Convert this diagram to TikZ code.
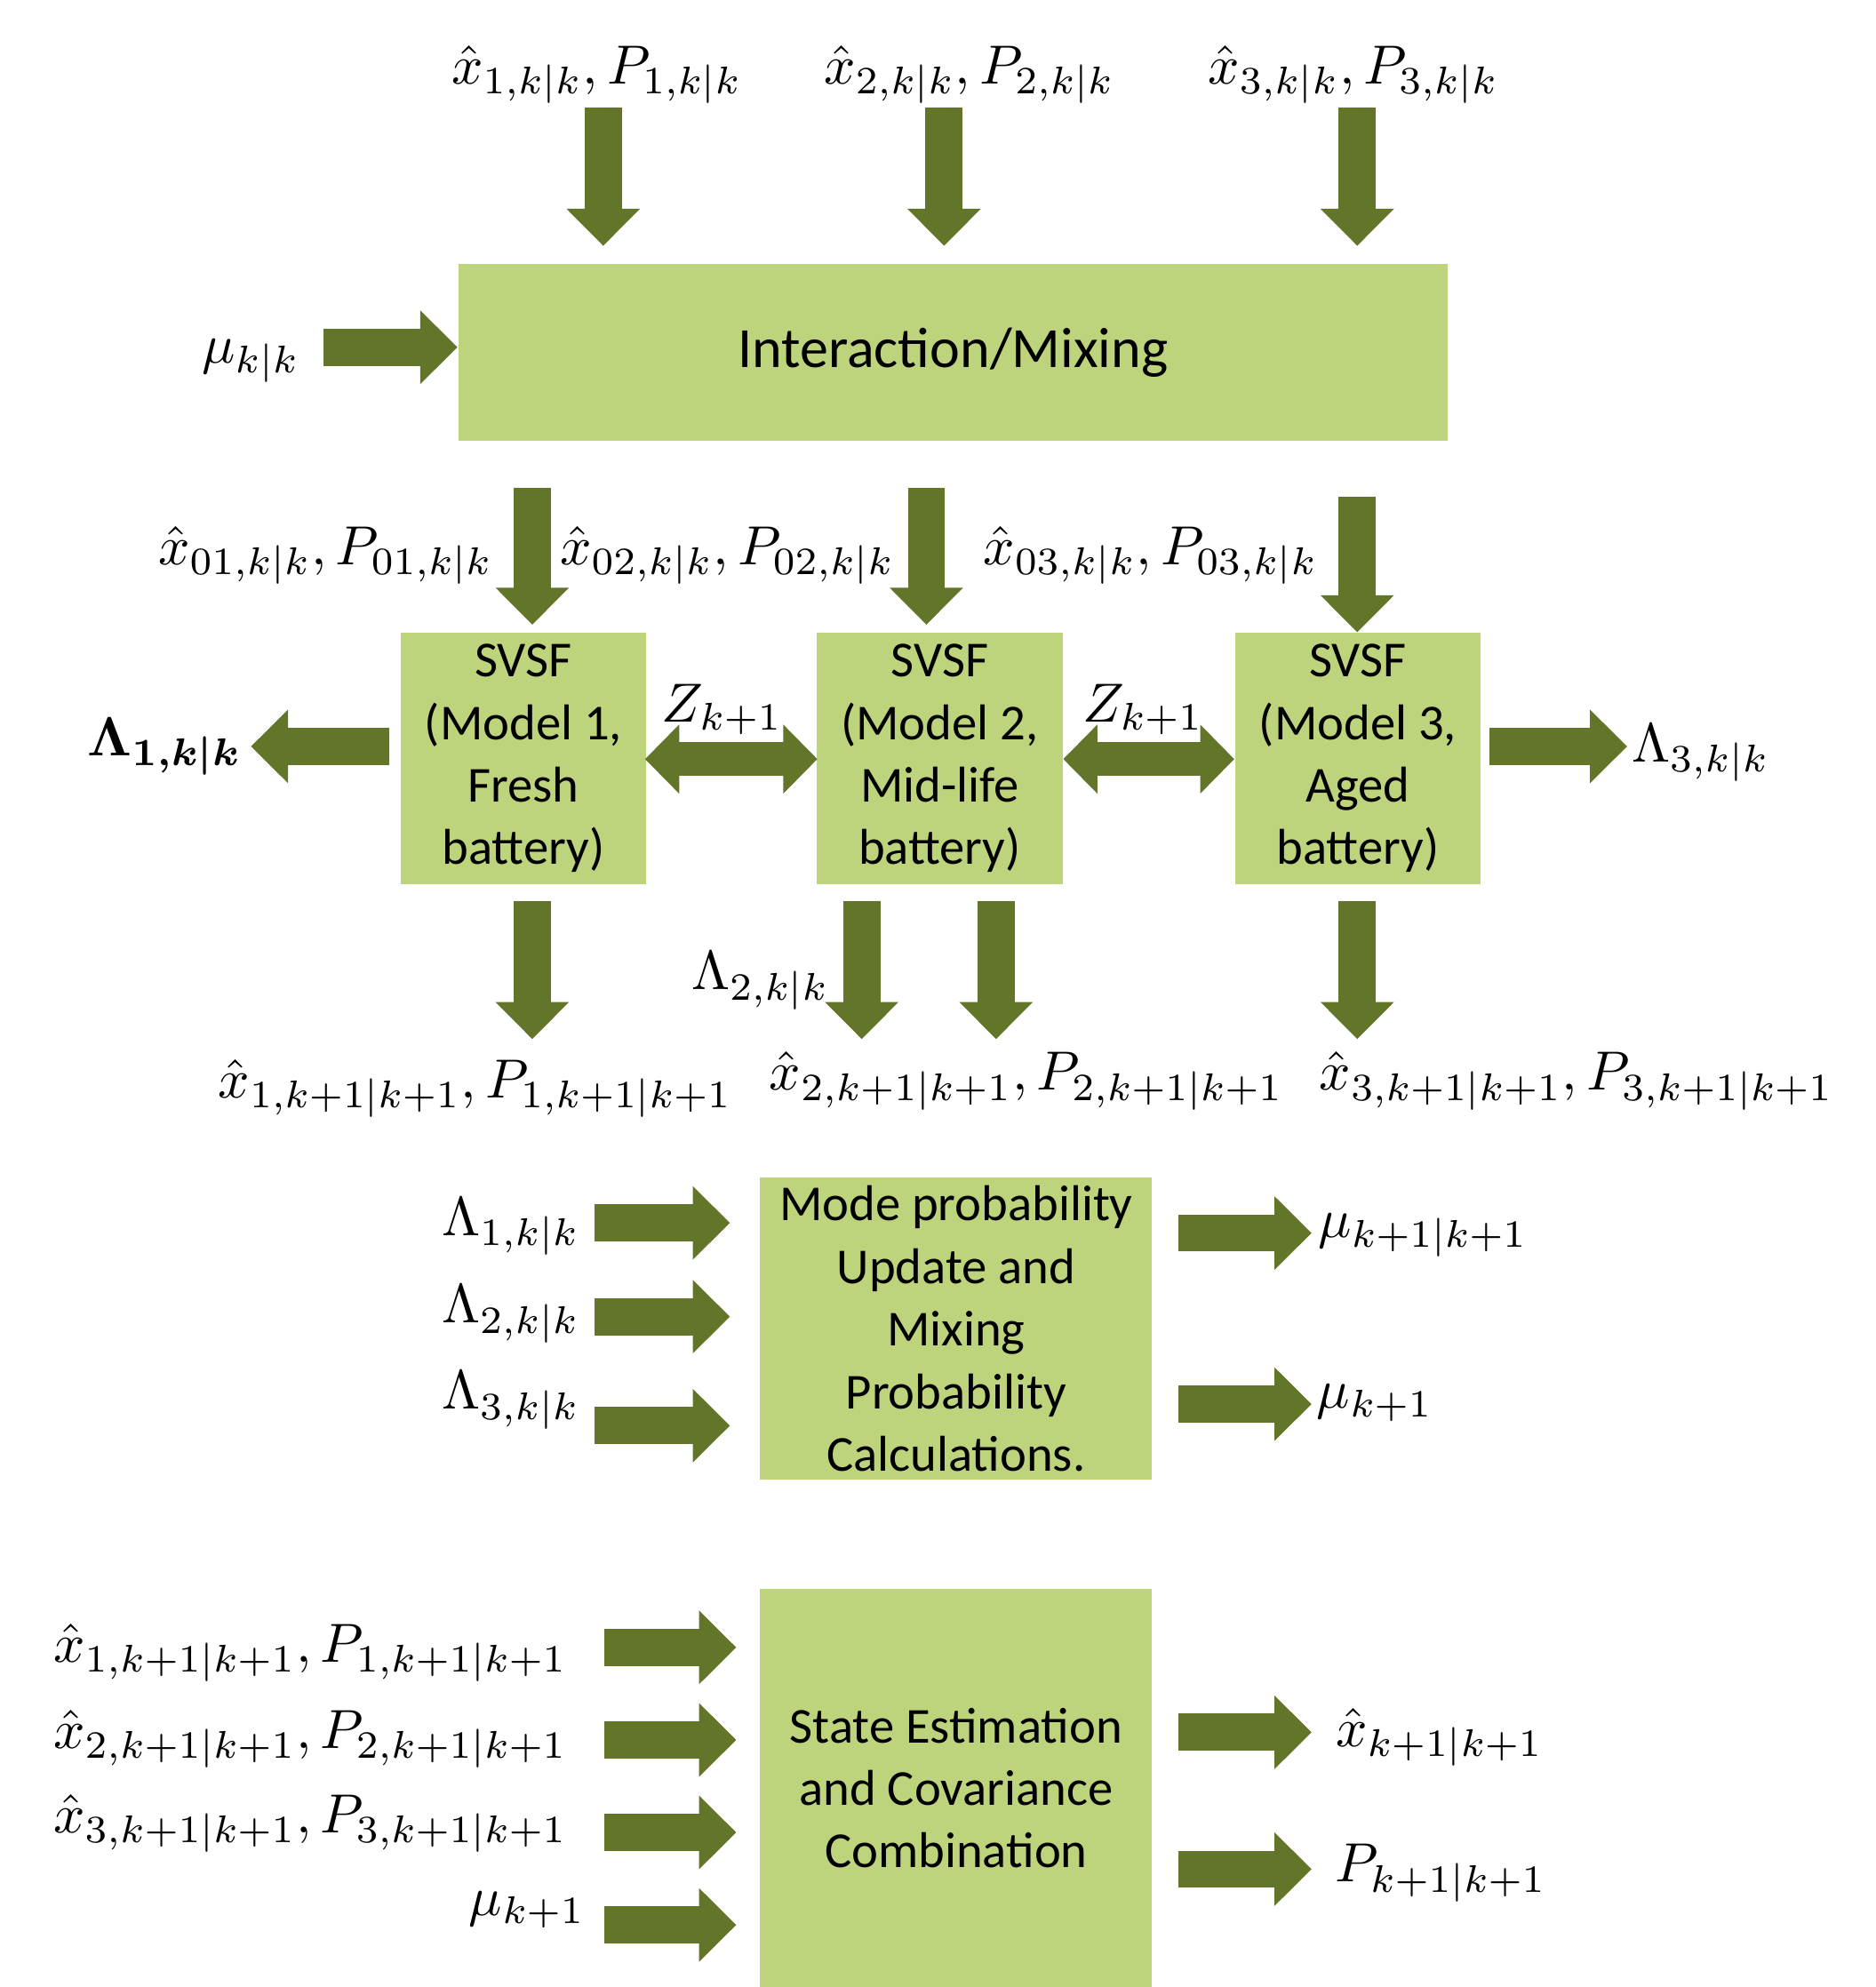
\documentclass[tikz,border=0pt]{standalone}
\usepackage{amsmath}
\usepackage{graphicx}
\usepackage{fontspec}
\newfontfamily\boxfont{Carlito}
\usetikzlibrary{arrows.meta}
\definecolor{boxgreen}{RGB}{189,211,124}
\definecolor{arrowgreen}{RGB}{99,117,41}
\newcommand{\lbm}[1]{\scalebox{0.92}{$#1$}}
\tikzset{
  blk/.style={fill=boxgreen, draw=none, inner sep=0pt, align=center, font=\boxfont\fontsize{8.4pt}{10.45pt}\selectfont},
  barrow/.style={draw=arrowgreen, line width=6.2pt, -{Triangle[length=6.2pt,width=11.9pt]}},
  dbarrow/.style={draw=arrowgreen, line width=5.7pt, {Triangle[length=5.7pt,width=11.2pt]}-{Triangle[length=5.7pt,width=11.2pt]}},
  lbl/.style={inner sep=0pt, font=\fontsize{9.6pt}{11pt}\selectfont}
}
\begin{document}
\begin{tikzpicture}[x=0.2115pt,y=-0.2115pt]
\fill[white] (0,0) rectangle (1480,1568);
\useasboundingbox (0,0) rectangle (1480,1568);

% boxes
\node[blk, minimum width=165pt, minimum height=29.6pt, font=\boxfont\fontsize{9.5pt}{11pt}\selectfont] (mix) at (752,278) {Interaction/Mixing};
\node[blk, minimum width=41pt, minimum height=42.1pt] (f1) at (413,598.5) {SVSF\\(Model 1,\\Fresh\\battery)};
\node[blk, minimum width=41pt, minimum height=42.1pt] (f2) at (741.5,598.5) {SVSF\\(Model 2,\\Mid-life\\battery)};
\node[blk, minimum width=41pt, minimum height=42.1pt] (f3) at (1071.5,598.5) {SVSF\\(Model 3,\\Aged\\battery)};
\node[blk, minimum width=65.4pt, minimum height=50.5pt] (mode) at (754.5,1048.5) {Mode probability\\Update and\\Mixing\\Probability\\Calculations.};
\node[blk, minimum width=65.4pt, minimum height=66.4pt] (comb) at (754.5,1411) {State Estimation\\and Covariance\\Combination};

% labels
\node[lbl] (t1) at (471,59) {\lbm{\hat{x}_{1,k|k},P_{1,k|k}}};
\node[lbl] (t2) at (765,59) {\lbm{\hat{x}_{2,k|k},P_{2,k|k}}};
\node[lbl] (t3) at (1068,59) {\lbm{\hat{x}_{3,k|k},P_{3,k|k}}};
\node[lbl] (mu) at (198,285) {\lbm{\mu_{k|k}}};
\node[lbl] (m1) at (257,438) {\lbm{\hat{x}_{01,k|k},P_{01,k|k}}};
\node[lbl] (m2) at (574,438) {\lbm{\hat{x}_{02,k|k},P_{02,k|k}}};
\node[lbl] (m3) at (908,438) {\lbm{\hat{x}_{03,k|k},P_{03,k|k}}};
\node[lbl] (z1) at (570,560) {\lbm{Z_{k+1}}};
\node[lbl] (z2) at (902,560) {\lbm{Z_{k+1}}};
\node[lbl] (L1) at (130,589) {\lbm{\boldsymbol{\Lambda_{1,k|k}}}};
\node[lbl] (L3) at (1342,594) {\lbm{\Lambda_{3,k|k}}};
\node[lbl] (L2) at (600,774) {\lbm{\Lambda_{2,k|k}}};
\node[lbl] (b1) at (375,859) {\lbm{\hat{x}_{1,k+1|k+1},P_{1,k+1|k+1}}};
\node[lbl] (b2) at (810,853) {\lbm{\hat{x}_{2,k+1|k+1},P_{2,k+1|k+1}}};
\node[lbl] (b3) at (1244,853) {\lbm{\hat{x}_{3,k+1|k+1},P_{3,k+1|k+1}}};
\node[lbl] (ml1) at (403,968) {\lbm{\Lambda_{1,k|k}}};
\node[lbl] (ml2) at (403,1037) {\lbm{\Lambda_{2,k|k}}};
\node[lbl] (ml3) at (403,1105) {\lbm{\Lambda_{3,k|k}}};
\node[lbl] (mr1) at (1123,975) {\lbm{\mu_{k+1|k+1}}};
\node[lbl] (mr2) at (1085,1107) {\lbm{\mu_{k+1}}};
\node[lbl] (cl1) at (245,1304) {\lbm{\hat{x}_{1,k+1|k+1},P_{1,k+1|k+1}}};
\node[lbl] (cl2) at (245,1372) {\lbm{\hat{x}_{2,k+1|k+1},P_{2,k+1|k+1}}};
\node[lbl] (cl3) at (245,1439) {\lbm{\hat{x}_{3,k+1|k+1},P_{3,k+1|k+1}}};
\node[lbl] (cl4) at (416,1507) {\lbm{\mu_{k+1}}};
\node[lbl] (cr1) at (1136,1371) {\lbm{\hat{x}_{k+1|k+1}}};
\node[lbl] (cr2) at (1137,1478) {\lbm{P_{k+1|k+1}}};

% arrow end points
\coordinate (ta1) at (476,85);   \coordinate (tb1) at (476,194);
\coordinate (ta2) at (745,85);   \coordinate (tb2) at (745,194);
\coordinate (ta3) at (1071,85);  \coordinate (tb3) at (1071,194);
\coordinate (mua) at (255,274);  \coordinate (mub) at (361,274);
\coordinate (ma1) at (420,385);  \coordinate (mb1) at (420,493);
\coordinate (ma2) at (731,385);  \coordinate (mb2) at (731,493);
\coordinate (ma3) at (1071,392); \coordinate (mb3) at (1071,499);
\coordinate (la1) at (307,589);  \coordinate (lb1) at (198,589);
\coordinate (la3) at (1175,589); \coordinate (lb3) at (1284,589);
\coordinate (da1) at (509,599);  \coordinate (db1) at (645,599);
\coordinate (da2) at (839,599);  \coordinate (db2) at (974,599);
\coordinate (ba1) at (420,711);  \coordinate (bb1) at (420,820);
\coordinate (ba2) at (680,711);  \coordinate (bb2) at (680,820);
\coordinate (ba3) at (786,711);  \coordinate (bb3) at (786,820);
\coordinate (ba4) at (1071,711); \coordinate (bb4) at (1071,820);
\coordinate (pa1) at (469,965);  \coordinate (pb1) at (576,965);
\coordinate (pa2) at (469,1039); \coordinate (pb2) at (576,1039);
\coordinate (pa3) at (469,1125); \coordinate (pb3) at (576,1125);
\coordinate (qa1) at (930,973);  \coordinate (qb1) at (1035,973);
\coordinate (qa2) at (930,1108); \coordinate (qb2) at (1035,1108);
\coordinate (sa1) at (477,1300); \coordinate (sb1) at (581,1300);
\coordinate (sa2) at (477,1373); \coordinate (sb2) at (581,1373);
\coordinate (sa3) at (477,1446); \coordinate (sb3) at (581,1446);
\coordinate (sa4) at (477,1519); \coordinate (sb4) at (581,1519);
\coordinate (ra1) at (930,1367); \coordinate (rb1) at (1035,1367);
\coordinate (ra2) at (930,1475); \coordinate (rb2) at (1035,1475);

% arrows
\foreach \a/\b in {ta1/tb1,ta2/tb2,ta3/tb3,mua/mub,ma1/mb1,ma2/mb2,ma3/mb3,
  la1/lb1,la3/lb3,ba1/bb1,ba2/bb2,ba3/bb3,ba4/bb4,pa1/pb1,pa2/pb2,pa3/pb3,
  qa1/qb1,qa2/qb2,sa1/sb1,sa2/sb2,sa3/sb3,sa4/sb4,ra1/rb1,ra2/rb2}
  \draw[barrow] (\a) -- (\b);
\draw[dbarrow] (da1) -- (db1);
\draw[dbarrow] (da2) -- (db2);
\end{tikzpicture}
\end{document}
